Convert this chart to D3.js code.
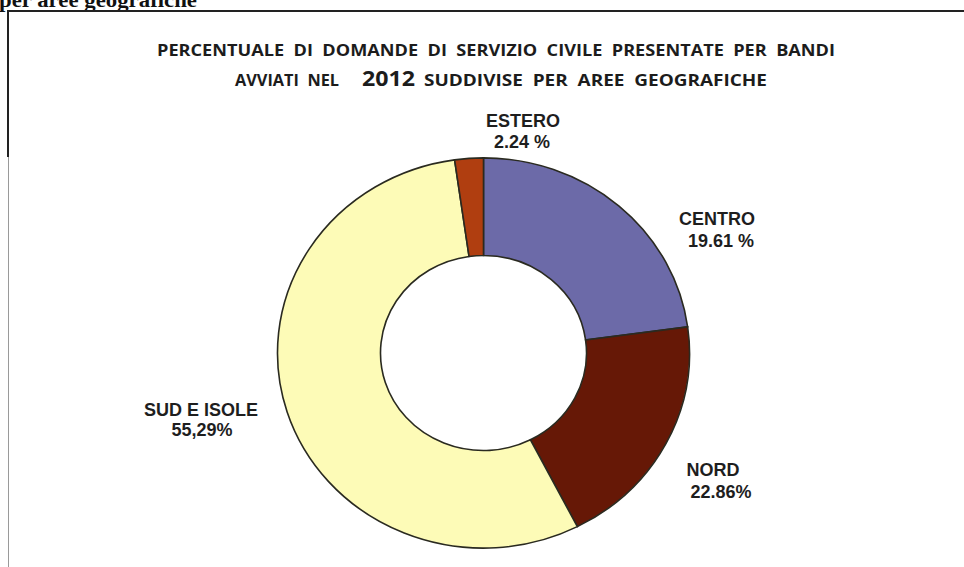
<!DOCTYPE html>
<html>
<head>
<meta charset="utf-8">
<script src="https://cdn.jsdelivr.net/npm/d3@7"></script>
<style>
  body { margin: 0; background: #fff; }
  svg { display: block; }
  .lbl { font-family: 'Liberation Sans', Arial, sans-serif; font-weight: bold; font-size: 18px; fill: #1e1e1e; }
  .ttl { font-family: 'Open Sans', sans-serif; font-weight: bold; font-size: 16px; fill: #1c1c1c; }
</style>
</head>
<body>
<div class="svg-container"></div>
<script>
// slice sizes as drawn in the picture (the printed labels for centro/nord are swapped in the source)
var categories = ['CENTRO', 'NORD', 'SUD E ISOLE', 'ESTERO'];
var sliceValues = [22.86, 19.61, 55.29, 2.24];
var labelText = ['19.61 %', '22.86%', '55,29%', '2.24 %'];
var sliceColors = ['#6c6aa8', '#661806', '#fdfbb7', '#b03e10'];

var titleLine1 = 'PERCENTUALE  DI  DOMANDE  DI  SERVIZIO  CIVILE  PRESENTATE  PER  BANDI';
var titleLine2 = ['AVVIATI  NEL', '2012', 'SUDDIVISE  PER  AREE  GEOGRAFICHE'];

var width = 964, height = 567;

var svg = d3.select('.svg-container').append('svg')
  .attr('width', width)
  .attr('height', height);

// scanned page bits: heading cut at top, box frame
svg.append('text')
  .attr('x', -1).attr('y', 7)
  .attr('textLength', 198)
  .attr('lengthAdjust', 'spacingAndGlyphs')
  .style('font-family', "'Liberation Serif', 'Times New Roman', serif")
  .style('font-weight', 'bold')
  .style('font-size', '21px')
  .style('fill', '#111')
  .text('per aree geografiche');

svg.append('line')
  .attr('x1', 8).attr('x2', width).attr('y1', 11).attr('y2', 11)
  .style('stroke', '#222').style('stroke-width', 2);
svg.append('line')
  .attr('x1', 8).attr('x2', 8).attr('y1', 10).attr('y2', 157)
  .style('stroke', '#222').style('stroke-width', 2);
svg.append('line')
  .attr('x1', 8.5).attr('x2', 8.5).attr('y1', 157).attr('y2', height)
  .style('stroke', '#9a9a9a').style('stroke-width', 1);

// title
svg.append('text').attr('class', 'ttl')
  .attr('x', 157).attr('y', 56)
  .attr('textLength', 678)
  .attr('lengthAdjust', 'spacingAndGlyphs')
  .style('white-space', 'pre')
  .text(titleLine1);

var t2 = [
  {x: 235, len: 104, size: 16},
  {x: 362, len: 53, size: 21},
  {x: 424, len: 343, size: 16}
];
svg.selectAll('.t2')
  .data(titleLine2)
  .enter()
  .append('text')
  .attr('class', 'ttl t2')
  .attr('x', function (d, i) { return t2[i].x; })
  .attr('y', 86)
  .attr('textLength', function (d, i) { return t2[i].len; })
  .attr('lengthAdjust', 'spacingAndGlyphs')
  .style('font-size', function (d, i) { return t2[i].size + 'px'; })
  .style('white-space', 'pre')
  .text(function (d) { return d; });

// donut (slightly squashed like the scan)
var pie = d3.pie().sort(null).value(function (d) { return d; });
var arc = d3.arc().innerRadius(103).outerRadius(206);
var color = d3.scaleOrdinal().domain(categories).range(sliceColors);

var g = svg.append('g')
  .attr('transform', 'translate(483.5,353) scale(1,0.947)');

g.selectAll('path')
  .data(pie(sliceValues))
  .enter()
  .append('path')
  .attr('d', arc)
  .style('fill', function (d, i) { return color(categories[i]); })
  .style('stroke', '#2a2a20')
  .style('stroke-width', 1.6)
  .attr('vector-effect', 'non-scaling-stroke');

// labels
var labelPos = [
  {x: 717, y: 225, x2: 721, y2: 247},
  {x: 713, y: 476, x2: 721, y2: 498},
  {x: 201, y: 416, x2: 202, y2: 436},
  {x: 523, y: 127, x2: 522, y2: 148}
];

var labels = svg.selectAll('.lab')
  .data(categories)
  .enter()
  .append('g')
  .attr('class', 'lab');

labels.append('text')
  .attr('class', 'lbl')
  .attr('text-anchor', 'middle')
  .attr('x', function (d, i) { return labelPos[i].x; })
  .attr('y', function (d, i) { return labelPos[i].y; })
  .text(function (d) { return d; });

labels.append('text')
  .attr('class', 'lbl')
  .attr('text-anchor', 'middle')
  .attr('x', function (d, i) { return labelPos[i].x2; })
  .attr('y', function (d, i) { return labelPos[i].y2; })
  .text(function (d, i) { return labelText[i]; });
</script>
</body>
</html>
